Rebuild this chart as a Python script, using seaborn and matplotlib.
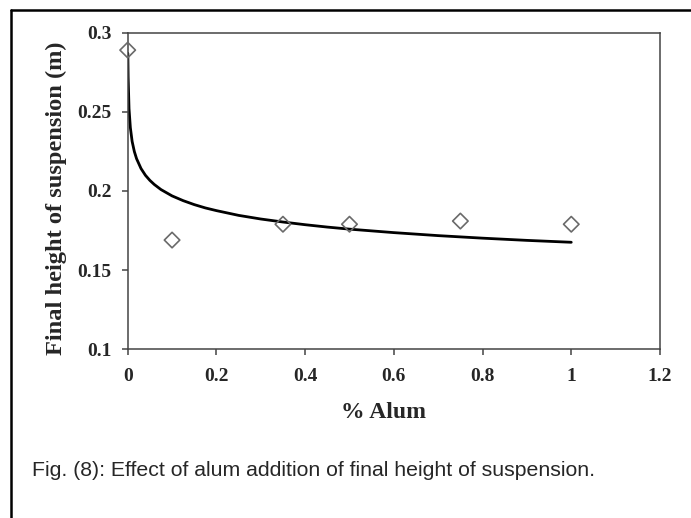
import numpy as np
import pandas as pd
import seaborn as sns
import matplotlib.pyplot as plt
from matplotlib.lines import Line2D
from matplotlib.ticker import FuncFormatter, MultipleLocator

# measured points
alum = [0, 0.1, 0.35, 0.5, 0.75, 1.0]
height = [0.289, 0.169, 0.179, 0.179, 0.181, 0.179]

# trend curve
curve_x = [0.0003, 0.001, 0.003, 0.006, 0.01, 0.015, 0.02, 0.03, 0.04, 0.05, 0.06, 0.075,
           0.1, 0.125, 0.15, 0.175, 0.2, 0.25, 0.3, 0.35, 0.4, 0.45, 0.5, 0.6, 0.7, 0.8, 0.9, 1.0]
curve_y = [0.287, 0.272, 0.252, 0.240, 0.2313, 0.2249, 0.2204, 0.2142, 0.2099, 0.2067, 0.2041, 0.2009,
           0.1969, 0.1939, 0.1914, 0.1893, 0.1876, 0.1846, 0.1823, 0.1804, 0.1787, 0.1772, 0.1759,
           0.1737, 0.1718, 0.1702, 0.1688, 0.1676]

pts = pd.DataFrame({'alum': alum, 'height': height})
trend = pd.DataFrame({'alum': curve_x, 'height': curve_y})

sns.set_style('white')
plt.rcParams['font.family'] = ['Liberation Serif', 'DejaVu Serif']

fig = plt.figure(figsize=(6.91, 5.18), dpi=100)
ax = fig.add_axes([0.1848, 0.3257, 0.7703, 0.6112])

sns.lineplot(data=trend, x='alum', y='height', color='black', lw=2.0, ax=ax, zorder=2)
sns.scatterplot(data=pts, x='alum', y='height', marker='D', s=62, facecolor='none',
                edgecolor='#6a6a6a', linewidth=1.2, ax=ax, zorder=3, clip_on=False)

ax.set_xlim(0, 1.2)
ax.set_ylim(0.1, 0.3)
ax.xaxis.set_major_locator(MultipleLocator(0.2))
ax.yaxis.set_major_locator(MultipleLocator(0.05))
fmt = FuncFormatter(lambda v, p: f'{v:g}')
ax.xaxis.set_major_formatter(fmt)
ax.yaxis.set_major_formatter(fmt)

for s in ax.spines.values():
    s.set_color('#444444')
    s.set_linewidth(1.1)
ax.tick_params(axis='both', direction='out', length=4.5, width=1.1, color='#444444',
               labelsize=14, left=True, bottom=True)
ax.tick_params(axis='x', pad=9)
ax.tick_params(axis='y', pad=7)
for t in ax.get_xticklabels() + ax.get_yticklabels():
    t.set_fontweight('bold')

ax.set_xlabel('% Alum', fontsize=17, fontweight='bold')
ax.set_ylabel('Final height of suspension (m)', fontsize=17.6, fontweight='bold')
ax.xaxis.set_label_coords(0.4806, -0.166)
ax.yaxis.set_label_coords(-0.114, 0.478)

fig.text(32 / 691, 1 - 471 / 518, 'Fig. (8): Effect of alum addition of final height of suspension.',
         family='Liberation Sans', fontsize=15.3, va='center', ha='left')

# page frame (top and left edges only)
fig.add_artist(Line2D([11 / 691, 1], [1 - 9.5 / 518] * 2, color='black', lw=1.8))
fig.add_artist(Line2D([11 / 691] * 2, [0, 1 - 9.5 / 518], color='black', lw=1.8))

plt.savefig('out.png', dpi=100)
